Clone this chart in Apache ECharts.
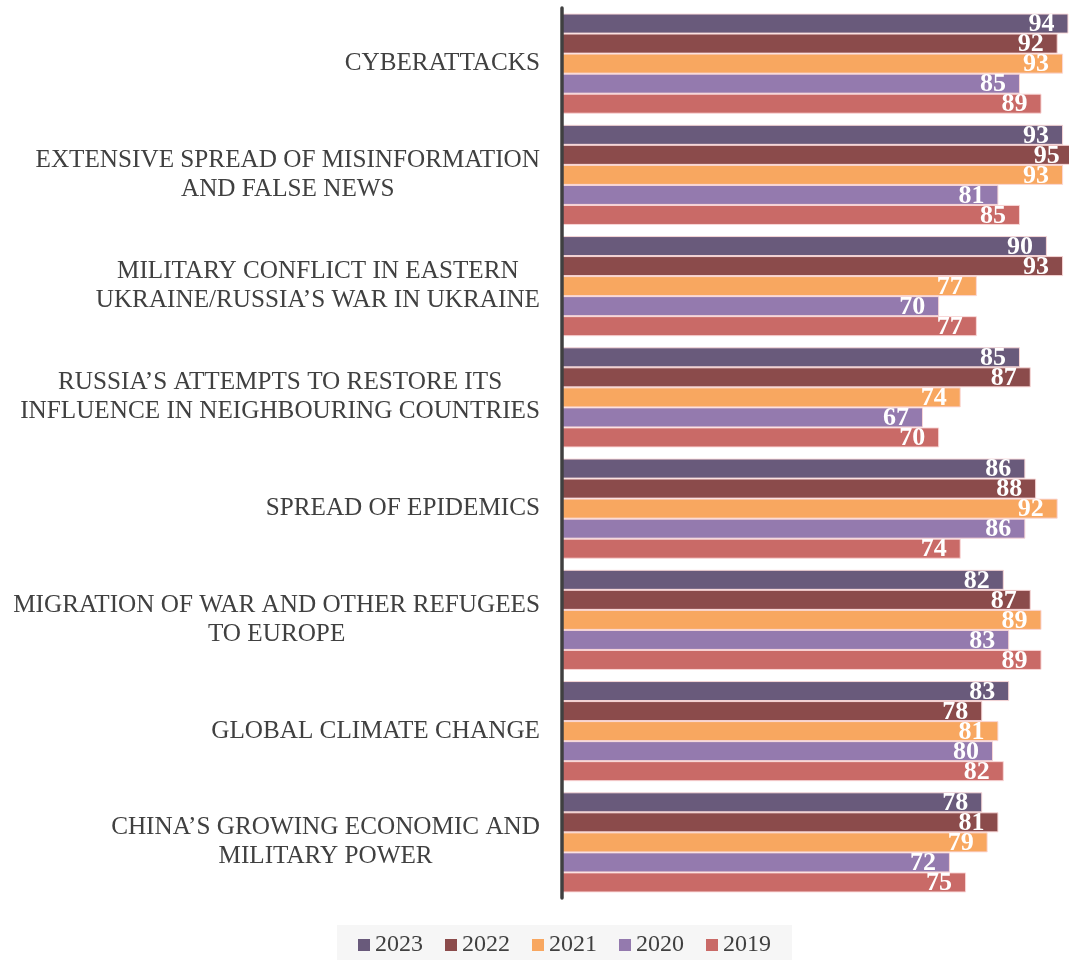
<!DOCTYPE html>
<html>
<head>
<meta charset="utf-8">
<script src="https://cdn.jsdelivr.net/npm/echarts@6/dist/echarts.min.js"></script>
<style>html,body{margin:0;padding:0;background:#fff;}#c{width:1069px;height:960px;}</style>
</head>
<body>
<div id="c"></div>
<script>
const categories = [
  'CYBERATTACKS',
  'EXTENSIVE SPREAD OF MISINFORMATION\nAND FALSE NEWS',
  'MILITARY CONFLICT IN EASTERN\nUKRAINE/RUSSIA\u2019S WAR IN UKRAINE',
  'RUSSIA\u2019S ATTEMPTS TO RESTORE ITS\nINFLUENCE IN NEIGHBOURING COUNTRIES',
  'SPREAD OF EPIDEMICS',
  'MIGRATION OF WAR AND OTHER REFUGEES\nTO EUROPE',
  'GLOBAL CLIMATE CHANGE',
  'CHINA\u2019S GROWING ECONOMIC AND\nMILITARY POWER'
];
const seriesNames = ['2023', '2022', '2021', '2020', '2019'];
const v2023 = [94, 93, 90, 85, 86, 82, 83, 78];
const v2022 = [92, 95, 93, 87, 88, 87, 78, 81];
const v2021 = [93, 93, 77, 74, 92, 89, 81, 79];
const v2020 = [85, 81, 70, 67, 86, 83, 80, 72];
const v2019 = [89, 85, 77, 70, 74, 89, 82, 75];
const seriesValues = [v2023, v2022, v2021, v2020, v2019];
const colors = ['#695a7b', '#8b4b4b', '#f8a760', '#947aae', '#c96a67'];

const FONT = '"Liberation Serif", "Times New Roman", serif';
const chart = echarts.init(document.getElementById('c'), null, {renderer: 'canvas'});
chart.setOption({
  animation: false,
  backgroundColor: '#ffffff',
  grid: {left: 562, right: 0, top: 8, bottom: 62, containLabel: false},
  xAxis: {type: 'value', min: 0, max: 94.1, show: false},
  yAxis: {
    type: 'category',
    data: categories,
    inverse: true,
    z: 5,
    axisTick: {show: false},
    axisLine: {show: true, lineStyle: {color: '#404040', width: 3.5}},
    axisLabel: {
      margin: 22,
      align: 'right',
      formatter: function (v) {
        return v.split('\n').map(function (l) { return '{c|' + l + '}'; }).join('\n');
      },
      rich: {
        c: {align: 'center', fontSize: 25.2, lineHeight: 29, fontFamily: FONT, color: '#404040'}
      }
    }
  },
  legend: {
    data: seriesNames,
    left: 337,
    top: 925,
    backgroundColor: '#f6f6f6',
    padding: [8, 21, 8, 21],
    itemGap: 22,
    itemWidth: 12,
    itemHeight: 12,
    icon: 'rect',
    itemStyle: {borderWidth: 0},
    textStyle: {fontSize: 24, color: '#404040', fontFamily: FONT}
  },
  series: seriesNames.map(function (name, i) {
    return {
      name: name,
      type: 'bar',
      data: seriesValues[i],
      barGap: '0%',
      barCategoryGap: '10%',
      clip: false,
      itemStyle: {color: colors[i], borderColor: 'rgba(250,215,215,0.95)', borderWidth: 1},
      label: {
        show: true,
        position: 'insideRight',
        distance: 14,
        offset: [0, 1],
        color: '#ffffff',
        fontSize: 26,
        fontWeight: 'bold',
        fontFamily: FONT
      }
    };
  })
});
</script>
</body>
</html>
